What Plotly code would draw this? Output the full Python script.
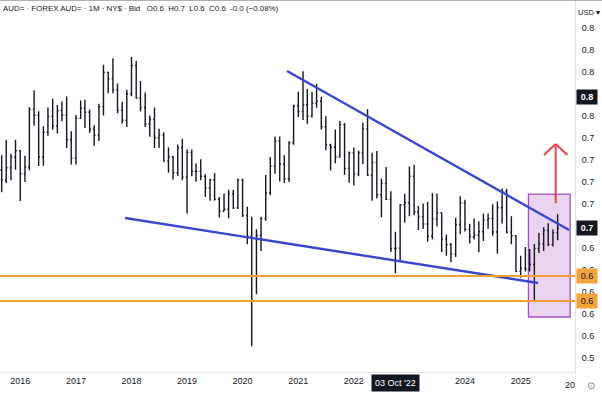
import pandas as pd
import plotly.graph_objects as go

# Monthly AUD/USD OHLC, Sep 2015 .. Sep 2025
opens = [0.7110,0.7020,0.7130,0.7227,
 0.7284,0.7076,0.7137,0.7661,0.7607,0.7228,0.7452,0.7597,0.7510,0.7650,0.7609,0.7385,
 0.7217,0.7579,0.7671,0.7635,0.7477,0.7428,0.7686,0.7998,0.7938,0.7838,0.7653,0.7562,
 0.7803,0.8059,0.7763,0.7678,0.7527,0.7568,0.7403,0.7429,0.7190,0.7227,0.7085,0.7311,
 0.7045,0.7270,0.7097,0.7097,0.7052,0.6944,0.7021,0.6842,0.6735,0.6752,0.6895,0.6765,
 0.7020,0.6695,0.6510,0.6149,0.6514,0.6667,0.6901,0.7145,0.7375,0.7162,0.7030,0.7357,
 0.7693,0.7641,0.7702,0.7598,0.7716,0.7735,0.7503,0.7337,0.7316,0.7228,0.7522,0.7124,
 0.7264,0.7072,0.7265,0.7483,0.7063,0.7177,0.6885,0.6988,0.6842,0.6396,0.6399,0.6794,
 0.6812,0.7052,0.6728,0.6686,0.6618,0.6507,0.6665,0.6721,0.6483,0.6431,0.6347,0.6614,
 0.6812,0.6570,0.6502,0.6518,0.6548,0.6654,0.6670,0.6546,0.6766,0.6913,0.6545,0.6512,
 0.6188,0.6217,0.6209,0.6250,0.6396,0.6438,0.6560,0.6431,0.6540]
highs = [0.7244,0.7382,0.7258,0.7385,
 0.7290,0.7240,0.7681,0.7835,0.7644,0.7507,0.7677,0.7758,0.7700,0.7733,0.7778,0.7462,
 0.7609,0.7741,0.7749,0.7660,0.7517,0.7712,0.8066,0.8001,0.8125,0.7897,0.7730,0.7838,
 0.8136,0.8103,0.7918,0.7813,0.7606,0.7677,0.7484,0.7453,0.7316,0.7237,0.7341,0.7394,
 0.7295,0.7296,0.7168,0.7207,0.7070,0.7030,0.7082,0.6863,0.6895,0.6929,0.6930,0.7032,
 0.7031,0.6775,0.6685,0.6570,0.6684,0.7064,0.7227,0.7415,0.7414,0.7243,0.7370,0.7702,
 0.7820,0.8007,0.7849,0.7818,0.7891,0.7775,0.7599,0.7348,0.7478,0.7556,0.7537,0.7277,
 0.7315,0.7286,0.7540,0.7661,0.7266,0.7283,0.7033,0.7137,0.6916,0.6547,0.6800,0.6893,
 0.7142,0.7158,0.6783,0.6806,0.6818,0.6900,0.6895,0.6723,0.6522,0.6445,0.6676,0.6871,
 0.6838,0.6620,0.6668,0.6644,0.6714,0.6714,0.6798,0.6824,0.6942,0.6937,0.6688,0.6516,
 0.6331,0.6409,0.6391,0.6436,0.6537,0.6590,0.6625,0.6568,0.6707]
lows = [0.6907,0.6992,0.7016,0.7111,
 0.6827,0.7000,0.7108,0.7511,0.7145,0.7147,0.7420,0.7476,0.7442,0.7550,0.7310,0.7160,
 0.7160,0.7574,0.7491,0.7449,0.7329,0.7372,0.7605,0.7808,0.7807,0.7625,0.7532,0.7500,
 0.7780,0.7757,0.7642,0.7500,0.7412,0.7310,0.7310,0.7186,0.7085,0.7020,0.7055,0.7016,
 0.6715,0.7053,0.7003,0.7017,0.6865,0.6831,0.6832,0.6677,0.6735,0.6671,0.6754,0.6755,
 0.6683,0.6434,0.5506,0.5980,0.6372,0.6648,0.6879,0.7076,0.7006,0.6991,0.7001,0.7340,
 0.7592,0.7564,0.7531,0.7586,0.7676,0.7477,0.7289,0.7106,0.7170,0.7224,0.7063,0.6993,
 0.6968,0.7052,0.7165,0.7055,0.6829,0.6850,0.6681,0.6837,0.6363,0.6170,0.6272,0.6629,
 0.6688,0.6698,0.6564,0.6572,0.6458,0.6481,0.6595,0.6364,0.6331,0.6270,0.6318,0.6526,
 0.6551,0.6442,0.6478,0.6362,0.6465,0.6575,0.6512,0.6348,0.6622,0.6535,0.6434,0.6179,
 0.6131,0.6187,0.6186,0.5913,0.6356,0.6372,0.6419,0.6414,0.6470]
closes = [0.7020,0.7130,0.7227,0.7284,
 0.7076,0.7137,0.7661,0.7607,0.7228,0.7452,0.7597,0.7510,0.7650,0.7609,0.7385,0.7217,
 0.7579,0.7671,0.7635,0.7477,0.7428,0.7686,0.7998,0.7938,0.7838,0.7653,0.7562,0.7803,
 0.8059,0.7763,0.7678,0.7527,0.7568,0.7403,0.7429,0.7190,0.7227,0.7085,0.7311,0.7045,
 0.7270,0.7097,0.7097,0.7052,0.6944,0.7021,0.6842,0.6735,0.6752,0.6895,0.6765,0.7020,
 0.6695,0.6510,0.6149,0.6514,0.6667,0.6901,0.7145,0.7375,0.7162,0.7030,0.7357,0.7693,
 0.7641,0.7702,0.7598,0.7716,0.7735,0.7503,0.7337,0.7316,0.7228,0.7522,0.7124,0.7264,
 0.7072,0.7265,0.7483,0.7063,0.7177,0.6885,0.6988,0.6842,0.6396,0.6399,0.6794,0.6812,
 0.7052,0.6728,0.6686,0.6618,0.6507,0.6665,0.6721,0.6483,0.6431,0.6347,0.6614,0.6812,
 0.6570,0.6502,0.6518,0.6548,0.6654,0.6670,0.6546,0.6766,0.6913,0.6545,0.6512,0.6188,
 0.6217,0.6209,0.6250,0.6396,0.6438,0.6560,0.6431,0.6540,0.6580]
dates = pd.date_range("2015-09-01", periods=len(closes), freq="MS")

year_ticks = ["2016-01-01","2017-01-01","2018-01-01","2019-01-01","2020-01-01",
              "2021-01-01","2022-01-01","2024-01-01","2025-01-01"]
year_labels = ["2016","2017","2018","2019","2020","2021","2022","2024","2025"]
# 0.78 and 0.66 labels sit under the crosshair / last-price boxes
price_ticks = [0.54,0.56,0.58,0.60,0.62,0.64,0.68,0.70,0.72,0.74,0.76,0.80,0.82,0.84]

# drawings
upper_trend = (("2020-10-19", 0.8009), ("2025-11-15", 0.6564))
lower_trend = (("2017-11-20", 0.6673), ("2025-04-26", 0.6082))
support_levels = [0.6145, 0.5918]
box = (("2025-02-21", 0.5773), ("2025-11-22", 0.6891))
arrow_x, arrow_y0, arrow_y1 = "2025-08-19", 0.6809, 0.7345
arrow_wing_x, arrow_wing_y = ("2025-06-03", "2025-11-04"), 0.7245
last_price, cross_price, cross_date = 0.658, 0.777, "2022-10-03"

TXT = "#131722"
fig = go.Figure()
fig.add_trace(go.Ohlc(x=dates, open=opens, high=highs, low=lows, close=closes,
                      increasing=dict(line=dict(color=TXT, width=1.4)),
                      decreasing=dict(line=dict(color=TXT, width=1.4)),
                      tickwidth=0.3, hoverinfo="skip", showlegend=False))

shapes = []
BLUE = "#3a46d0"
for (p0, p1) in (upper_trend, lower_trend):
    shapes.append(dict(type="line", xref="x", yref="y", x0=p0[0], y0=p0[1], x1=p1[0], y1=p1[1],
                       line=dict(color=BLUE, width=2.4)))
for lvl in support_levels:
    shapes.append(dict(type="line", xref="paper", yref="y", x0=0, x1=1, y0=lvl, y1=lvl,
                       line=dict(color="#f0a030", width=2)))
shapes.append(dict(type="rect", xref="x", yref="y", x0=box[0][0], y0=box[0][1], x1=box[1][0], y1=box[1][1],
                   fillcolor="rgba(156,39,176,0.2)", line=dict(color="#a04cc8", width=1.3), layer="below"))
RED = "#e0464c"
shapes.append(dict(type="line", xref="x", yref="y", x0=arrow_x, x1=arrow_x, y0=arrow_y0, y1=arrow_y1,
                   line=dict(color=RED, width=2)))
shapes.append(dict(type="line", xref="x", yref="y", x0=arrow_wing_x[0], x1=arrow_x, y0=arrow_wing_y, y1=arrow_y1,
                   line=dict(color=RED, width=2)))
shapes.append(dict(type="line", xref="x", yref="y", x0=arrow_wing_x[1], x1=arrow_x, y0=arrow_wing_y, y1=arrow_y1,
                   line=dict(color=RED, width=2)))
# top border
shapes.append(dict(type="line", xref="paper", yref="paper", x0=-0.01, x1=1.1, y0=1, y1=1,
                   line=dict(color="#b0b0b0", width=2)))

anns = []
anns.append(dict(text="AUD= · FOREX AUD= · 1M · NY$ · Bid &nbsp; O0.6 &nbsp;H0.7 &nbsp;L0.6 &nbsp;C0.6 &nbsp;-0.0 (−0.08%)",
                 xref="paper", yref="paper", x=0.002, y=0.995, xanchor="left", yanchor="top",
                 showarrow=False, font=dict(size=7.9, color=TXT, family="Liberation Sans")))
def price_box(val, txt, bg, fg):
    return dict(text=txt, xref="paper", yref="y", x=1.0, y=val, xanchor="left", yanchor="middle",
                xshift=1, showarrow=False, bgcolor=bg, borderpad=2,
                font=dict(size=9, color=fg, family="Liberation Sans"), width=16, align="center")
anns.append(price_box(cross_price, "<b>0.8</b>", "#131722", "white"))
anns.append(price_box(last_price, "<b>0.7</b>", "#131722", "white"))
for lvl in support_levels:
    anns.append(price_box(lvl, "0.6", "#f2a43a", TXT))
anns.append(dict(text="03 Oct '22", xref="x", yref="paper", x=cross_date, y=0,
                 yanchor="top", yshift=-2, showarrow=False, bgcolor="#131722", borderpad=3,
                 font=dict(size=9, color="white", family="Liberation Sans")))
anns.append(dict(text="USD ▾", xref="paper", yref="paper", x=1.0, y=0.985, xanchor="left", yanchor="top",
                 xshift=1, showarrow=False, font=dict(size=7.5, color=TXT, family="Liberation Sans")))
anns.append(dict(text="20", xref="paper", yref="paper", x=1.0, y=0, xanchor="right", yanchor="top",
                 yshift=-6, xshift=2, showarrow=False, font=dict(size=9, color=TXT, family="Liberation Sans")))
anns.append(dict(text="⊙", xref="paper", yref="paper", x=1.0, y=0, xanchor="left", yanchor="top",
                 yshift=-4, xshift=10, showarrow=False, font=dict(size=10, color="#787b86")))

fig.update_layout(
    width=602, height=394, margin=dict(l=0, r=27, t=0, b=22),
    paper_bgcolor="white", plot_bgcolor="white", hovermode=False,
    shapes=shapes, annotations=anns,
    xaxis=dict(range=["2015-08-21", "2025-12-24"], rangeslider=dict(visible=False),
               tickvals=year_ticks, ticktext=year_labels, showgrid=False, zeroline=False,
               showline=True, linecolor="#e0e3eb", linewidth=1, ticks="",
               tickfont=dict(size=9, color=TXT, family="Liberation Sans")),
    yaxis=dict(side="right", range=[0.5273, 0.8655], tickvals=price_ticks, tickformat=".1f",
               showgrid=False, zeroline=False, showline=True, linecolor="#e0e3eb", linewidth=1,
               ticks="", ticklabelstandoff=4,
               tickfont=dict(size=9, color=TXT, family="Liberation Sans")),
)
fig.write_html("out.html")
